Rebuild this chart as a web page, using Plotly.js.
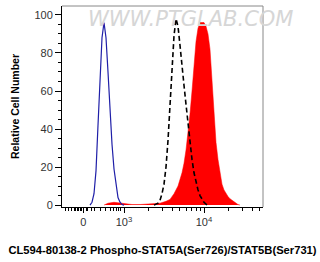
<!DOCTYPE html>
<html><head><meta charset="utf-8">
<script src="https://cdn.plot.ly/plotly-3.0.1.min.js"></script>
<style>html,body{margin:0;padding:0;background:#fff}#c{width:320px;height:262px}</style>
</head><body><div id="c"></div>
<script>
// x positions are on the display (logicle-like) scale: 3 = 10^3, 4 = 10^4
const blueX = [2.575,2.6,2.625,2.65,2.675,2.7,2.725,2.75,2.775,2.8,2.825,2.85,2.875,2.9,2.925,2.95,2.975,3.0];
const blueY = [0,1.5,6,18,42,68,88,96,88,70,50,32,19,10,4,1.5,0.3,0];

const dashX = [3.375,3.4,3.425,3.45,3.475,3.5,3.525,3.55,3.575,3.6,3.625,3.65,3.675,3.7,3.725,3.75,3.775,3.8,3.825,3.85,3.875,3.9,3.925,3.95,3.975,4.0,4.025,4.05];
const dashY = [0,0.5,1,2.5,6,11,20,34,52,72,89,98,94,84,75,63,53,42,32,24,17,12,8,5,3,1.5,0.5,0];

const redX = [2.75,2.8,2.875,2.95,3.0,3.1,3.2,3.275,3.325,3.45,3.525,3.575,3.625,3.675,3.725,3.75,3.775,3.8,3.825,3.85,3.875,3.9,3.925,3.95,3.975,4.0,4.025,4.05,4.075,4.1,4.125,4.15,4.175,4.2,4.225,4.25,4.275,4.3,4.325,4.35,4.375,4.4,4.425,4.45];
const redY = [0,1,1.5,1,0.6,0.3,0.3,0.4,0.6,1,2,3,6,10,17,22,29,38,48,60,76,86,93,96,96,96,94,90,82,66,47,33,24,16,11,8,6,4.5,3.3,2.5,1.5,0.8,0.3,0];

const xTickVals = [2.49, 3, 4];
const xTickText = ['0', '10<sup>3</sup>', '10<sup>4</sup>'];
const xMinorPx = [65,68,71,74,75.5,77,78.5,80,81.5,86,87.5,91,94,100,105,110,113.3,116.7,118.3,120.7];
const decadeMinor = [2,3,4,5,6,7,8,9];

const minorVals = xMinorPx.map(p => 3 + (p - 124) / 80)
  .concat(decadeMinor.map(m => 3 + Math.log10(m)))
  .concat(decadeMinor.slice(0,4).map(m => 4 + Math.log10(m)));

const traces = [
  {x: redX, y: redY, type: 'scatter', mode: 'lines', fill: 'tozeroy',
   fillcolor: '#ff0000', line: {color: '#ff0000', width: 0.5}, hoverinfo: 'skip'},
  {x: dashX, y: dashY, type: 'scatter', mode: 'lines',
   line: {color: '#000000', width: 1.6, dash: '5px,3px'}, hoverinfo: 'skip'},
  {x: blueX, y: blueY, type: 'scatter', mode: 'lines',
   line: {color: '#1f1fa8', width: 1.2}, hoverinfo: 'skip'}
];

const layout = {
  width: 320, height: 262,
  margin: {l: 62, r: 57, t: 6, b: 55},
  showlegend: false,
  paper_bgcolor: '#fff', plot_bgcolor: '#fff',
  font: {family: 'Liberation Sans, Arial, sans-serif', color: '#222', size: 11},
  xaxis: {
    range: [2.225, 4.7375], showgrid: false, zeroline: false,
    showline: true, linecolor: '#000', linewidth: 1,
    tickmode: 'array', tickvals: xTickVals, ticktext: xTickText,
    ticks: 'outside', ticklen: 5, tickwidth: 1, tickcolor: '#000',
    tickfont: {size: 11, color: '#333'},
    minor: {tickmode: 'array', tickvals: minorVals, ticks: 'outside', ticklen: 3, tickwidth: 1, tickcolor: '#000'},
    title: {text: '<b>CL594-80138-2 Phospho-STAT5A(Ser726)/STAT5B(Ser731)</b>',
            font: {size: 11.2, color: '#000'}, standoff: 18}
  },
  yaxis: {
    range: [-1, 104.7], showgrid: false, zeroline: false,
    showline: true, linecolor: '#000', linewidth: 1,
    tickmode: 'array', tickvals: [0,20,40,60,80,100],
    ticks: 'outside', ticklen: 6, tickwidth: 1, tickcolor: '#000',
    tickfont: {size: 11, color: '#333'},
    minor: {dtick: 5, ticks: 'outside', ticklen: 3, tickwidth: 1, tickcolor: '#000'},
    title: {text: '<b>Relative Cell Number</b>', font: {size: 10.5, color: '#000'}, standoff: 12}
  },
  shapes: [
    {type: 'line', xref: 'paper', yref: 'paper', x0: 0, x1: 1, y0: 1, y1: 1, line: {color: '#888', width: 1}},
    {type: 'line', xref: 'paper', yref: 'paper', x0: 1, x1: 1, y0: 0, y1: 1, line: {color: '#888', width: 1}}
  ],
  annotations: [
    {text: '<i>WWW.PTGLAB.COM</i>', xref: 'paper', yref: 'paper', x: 0.12, y: 0.935,
     xanchor: 'left', yanchor: 'middle', showarrow: false,
     font: {size: 21, color: '#d6d6d6', family: 'DejaVu Sans, sans-serif'}}
  ]
};

Plotly.newPlot('c', traces, layout, {displayModeBar: false, staticPlot: true});
</script>
</body></html>
